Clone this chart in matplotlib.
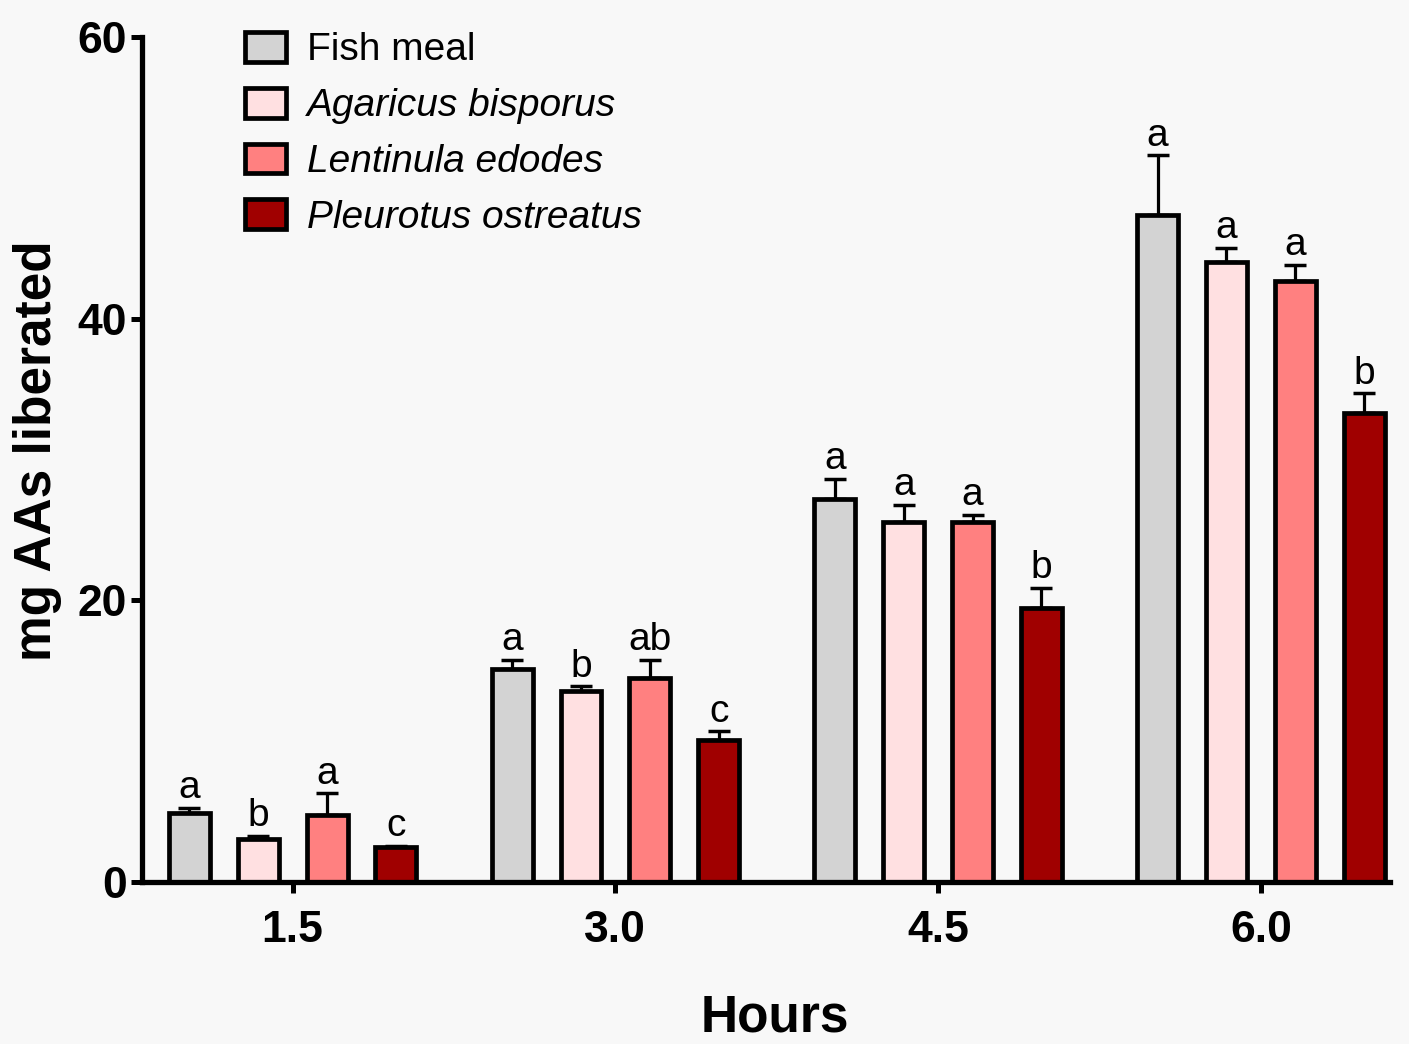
import numpy as np
import matplotlib.pyplot as plt

plt.rcParams['font.family'] = ['Liberation Sans', 'DejaVu Sans']

# Datos
horas = [1.5, 3.0, 4.5, 6.0]
series = ["Fish meal", "Agaricus bisporus", "Lentinula edodes", "Pleurotus ostreatus"]
fish = [4.9, 15.1, 27.2, 47.4]
agaricus = [3.1, 13.6, 25.6, 44.0]
lentinula = [4.8, 14.5, 25.6, 42.7]
pleurotus = [2.5, 10.1, 19.5, 33.3]
err_fish = [0.4, 0.7, 1.4, 4.2]
err_agaricus = [0.2, 0.3, 1.2, 1.0]
err_lentinula = [1.5, 1.3, 0.5, 1.1]
err_pleurotus = [0.05, 0.6, 1.4, 1.4]
letras_fish = ["a", "a", "a", "a"]
letras_agaricus = ["b", "b", "a", "a"]
letras_lentinula = ["a", "ab", "a", "a"]
letras_pleurotus = ["c", "c", "b", "b"]

valores = [fish, agaricus, lentinula, pleurotus]
errores = [err_fish, err_agaricus, err_lentinula, err_pleurotus]
letras = [letras_fish, letras_agaricus, letras_lentinula, letras_pleurotus]
colores = ["#d3d3d3", "#ffe0e1", "#ff8080", "#a00000"]
desplazamientos = [-0.48, -0.16, 0.16, 0.48]

fig = plt.figure(figsize=(14.09, 10.44), dpi=100)
fig.patch.set_facecolor("#f8f8f8")
ax = fig.add_axes([0.1008, 0.155, 0.8857, 0.8095])
ax.set_facecolor("#f8f8f8")

x = np.array(horas)
barras = []
for v, e, l, c, d in zip(valores, errores, letras, colores, desplazamientos):
    xs = x + d
    ax.errorbar(xs, v, yerr=[np.zeros(len(e)), e], fmt="none", ecolor="black",
                elinewidth=2.3, capsize=8, capthick=2.5, zorder=1)
    b = ax.bar(xs, v, width=0.19, color=c, edgecolor="black", linewidth=3.4, zorder=2)
    barras.append(b)
    for xi, vi, ei, li in zip(xs, v, e, l):
        ax.text(xi, vi + ei + 0.7, li, ha="center", va="baseline", fontsize=28)

ax.set_xlim(0.8, 6.6)
ax.set_ylim(0, 60)
ax.set_xticks(horas)
ax.set_xticklabels(["1.5", "3.0", "4.5", "6.0"])
ax.set_yticks([0, 20, 40, 60])
ax.tick_params(axis="both", width=3.6, length=8, labelsize=32, direction="out")
for t in ax.get_xticklabels() + ax.get_yticklabels():
    t.set_fontweight("bold")
ax.tick_params(axis="x", pad=12)
ax.tick_params(axis="y", pad=3)

for s in ["top", "right"]:
    ax.spines[s].set_visible(False)
for s in ["left", "bottom"]:
    ax.spines[s].set_linewidth(3.8)

ax.set_xlabel("Hours", fontsize=37, fontweight="bold")
ax.xaxis.set_label_coords(0.507, -0.132)
ax.set_ylabel("mg AAs liberated", fontsize=37, fontweight="bold")
ax.yaxis.set_label_coords(-0.064, 0.51)

leg = ax.legend(barras, series, loc="upper left", bbox_to_anchor=(0.0825, 1.006),
                frameon=False, fontsize=28, handlelength=1.05, handleheight=0.8,
                labelspacing=0.5, handletextpad=0.55, borderpad=0, borderaxespad=0)
for t in leg.get_texts()[1:]:
    t.set_style("italic")

fig.savefig("out.png", dpi=100, facecolor=fig.get_facecolor())
